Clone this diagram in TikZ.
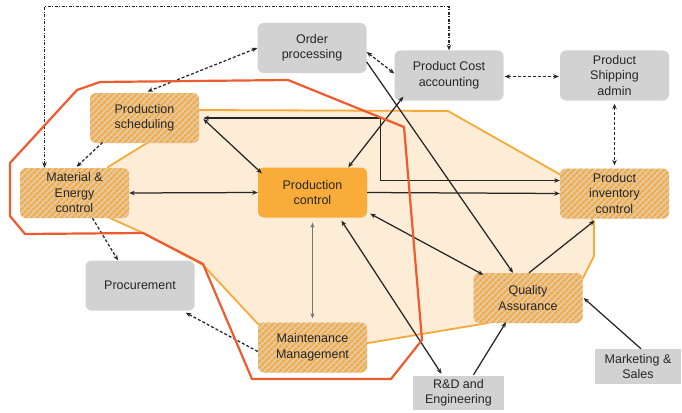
\documentclass[tikz,border=0pt]{standalone}
\usepackage{fontspec}
\setmainfont{Liberation Sans}
\usetikzlibrary{calc,arrows.meta,patterns.meta}
\definecolor{boxgray}{HTML}{D2D2D2}
\definecolor{ctrlorange}{HTML}{F9AC3A}
\definecolor{hatchorange}{HTML}{F4AD45}
\definecolor{hatchbase}{HTML}{DFCDB8}
\definecolor{zonefill}{HTML}{FDECD6}
\definecolor{zoneline}{HTML}{F8AA38}
\definecolor{scopered}{HTML}{EE5B2E}
\definecolor{txt}{HTML}{262626}
\begin{document}
\begin{tikzpicture}[x=1pt,y=-1pt,
  box/.style={rounded corners=6pt, minimum width=109pt, minimum height=50pt,
    align=center, text=txt, font=\fontsize{12.5}{15.5}\selectfont, inner sep=1pt},
  graybox/.style={box, fill=boxgray},
  hatchbox/.style={box, preaction={fill=hatchbase},
    pattern={Lines[angle=45,distance=4pt,line width=2.8pt]}, pattern color=hatchorange},
  ctrlbox/.style={box, fill=ctrlorange},
  plainbox/.style={box, rounded corners=0pt, fill=boxgray},
  link/.style={draw=black!85, line width=1.25pt, >={Stealth[length=5.5pt,width=4.5pt]}},
  dlink/.style={link, dash pattern=on 3pt off 2pt},
  ddlink/.style={link, dash pattern=on 3pt off 1.5pt on 1pt off 1.5pt},
  thinlink/.style={draw=black!55, line width=0.7pt, >={Stealth[length=5pt,width=4pt]}}
]
\useasboundingbox (0,0) rectangle (682,412);

% production zone
\filldraw[fill=zonefill, draw=zoneline, line width=1.8pt, line join=round]
  (108,167) -- (147,143) -- (200,110) -- (448,111) -- (561,175) -- (594,222)
  -- (594,256) -- (583,278) -- (488,323) -- (368,343) -- (258,324) -- (203,265)
  -- (143,233) -- (110,218) -- cycle;

% functions
\node[graybox]  (order) at (312,48)    {Order\\processing};
\node[graybox]  (cost)  at (449,75.5)  {Product Cost\\accounting};
\node[graybox]  (ship)  at (614.5,75.5){Product\\Shipping\\admin};
\node[hatchbox] (sched) at (144.5,118) {Production\\scheduling};
\node[hatchbox] (mat)   at (74.5,193)  {Material \&\\Energy\\control};
\node[ctrlbox]  (ctrl)  at (312.5,192.5){Production\\control};
\node[hatchbox] (inv)   at (614.5,193.5){Product\\inventory\\control};
\node[graybox]  (proc)  at (140,285.5) {Procurement};
\node[hatchbox] (maint) at (312.5,347.5){Maintenance\\Management};
\node[hatchbox] (qa)    at (528,298)   {Quality\\Assurance};
\node[plainbox, minimum width=91pt, minimum height=34pt] (rd) at (458.5,393) {R\&D and\\Engineering};
\node[plainbox, minimum width=86pt, minimum height=35pt] (mkt) at (638,366.5) {Marketing \&\\Sales};

% information flows
\draw[ddlink,<->] ($(mat.north)+(-30,0)$) -- ++(0,-161) -| (cost.north);
\draw[dlink,<->] (order.west) -- ($(sched.north)+(3,0)$);
\draw[dlink,->] ($(sched.south west)+(14,-2)$) -- ($(mat.north)+(2,-1)$);
\draw[dlink,->] ($(mat.south)+(18,0)$) -- ($(proc.north)+(-22,0)$);
\draw[dlink,->] ($(maint.west)+(0,4)$) -- ($(proc.south east)+(-9,2)$);
\draw[dlink,<->] ($(order.east)+(0,4)$) -- ($(cost.west)+(0,-2)$);
\draw[dlink,<->] ($(cost.east)+(1,1)$) -- ($(ship.west)+(-1,1)$);
\draw[dlink,<->] ($(ship.south)+(0,3)$) -- ($(inv.north)+(0,-3)$);

\draw[link,<->] (mat.east) -- (ctrl.west);
\draw[link,<->] ($(sched.east)+(3,1)$) -- ($(ctrl.north west)+(4,6)$);
\draw[link,<->] ($(sched.east)+(3,0)$) -- ++(177,0) |- ($(inv.west)+(0,-13)$);
\draw[link,->] (ctrl.east) -- (inv.west);
\draw[link,<->] ($(cost.south west)+(9,-4)$) -- ($(ctrl.north east)+(-19,0)$);
\draw[link,->] ($(order.east)+(0,14)$) -- ($(qa.north)+(-15,0)$);
\draw[link,<->] ($(ctrl.south east)+(3,-4)$) -- ($(qa.north west)+(10,2)$);
\draw[link,->] ($(qa.north)+(1,0)$) -- ($(inv.south)+(-20,2)$);
\draw[thinlink,<->] ($(ctrl.south)+(0,5)$) -- ($(maint.north)+(0,-4)$);
\draw[link,<->] ($(ctrl.south)+(29,3)$) -- ($(rd.north)+(-17,-2)$);
\draw[link,->] ($(rd.north)+(15,-1)$) -- ($(qa.south)+(-22,-1)$);
\draw[link,->] ($(mkt.north)+(3,0)$) -- ($(qa.east)+(1,0)$);

% automation scope
\draw[scopered, line width=2.2pt, line join=round]
  (10,163) -- (77,90) -- (100,82) -- (288,80) -- (404,127) -- (422,340)
  -- (391,379) -- (252,379) -- (203,264) -- (143,233) -- (25,234) -- (10,216) -- cycle;
\end{tikzpicture}
\end{document}
